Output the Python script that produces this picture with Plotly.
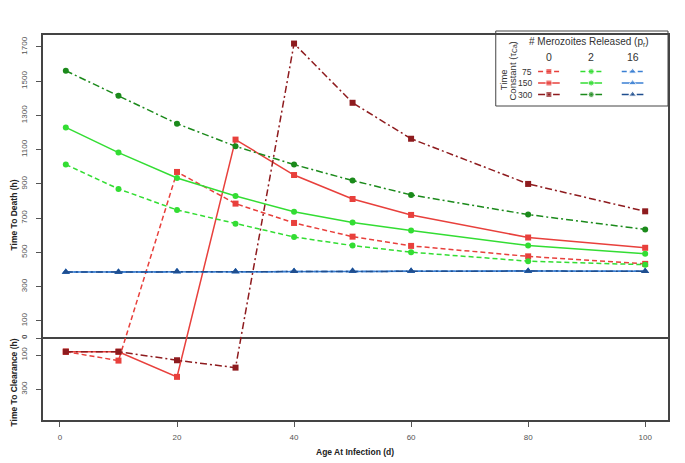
import plotly.graph_objects as go

# ---------------- data ----------------
age = [1, 10, 20, 30, 40, 50, 60, 80, 100]

# p_r = 0 (red): time to death (h), None where the infection cleared instead
red75_death = [None, None, 970, 785, 672, 592, 538, 477, 433]
red75_clear = [80, 132, None, None, None, None, None, None, None]
red150_death = [None, None, None, 1159, 952, 812, 719, 587, 527]
red150_clear = [80, 80, 227, None, None, None, None, None, None]
red300_death = [None, None, None, None, 1720, 1374, 1164, 900, 740]
red300_clear = [80, 80, 130, 173, None, None, None, None, None]

# p_r = 2 (green)
green75_death = [1013, 871, 748, 667, 590, 540, 501, 449, 428]
green150_death = [1230, 1083, 935, 830, 737, 675, 628, 540, 492]
green300_death = [1561, 1415, 1252, 1120, 1013, 920, 836, 721, 634]

# p_r = 16 (blue)
blue75_death = [385, 386, 388, 389, 390, 391, 392, 391, 390]
blue150_death = [385, 386, 388, 389, 390, 391, 392, 391, 390]
blue300_death = [385, 386, 388, 389, 390, 391, 392, 391, 390]

upper_ticks = [100, 300, 500, 700, 900, 1100, 1300, 1500, 1700]
lower_ticks = [100, 300]
x_ticks = [0, 20, 40, 60, 80, 100]

tau_labels = ["75", "150", "300"]
pr_labels = ["0", "2", "16"]

# ---------------- styles ----------------
RED = "#E8403C"
DRED = "#8E1B1E"
GREEN = "#33DD33"
DGREEN = "#1B8A1B"
BLUE = "#3A7FD3"
DBLUE = "#1F4E8E"
DASH = "5px,3px"
DASHDOT = "7px,3px,2px,3px"
dash_for = {"75": DASH, "150": "solid", "300": DASHDOT}
FONT = "Liberation Sans, Arial, sans-serif"


def signed(death, clear=None):
    out = []
    for i, d in enumerate(death):
        if d is not None:
            out.append(d)
        elif clear is not None and clear[i] is not None:
            out.append(-clear[i])
        else:
            out.append(None)
    return out


series = [
    (signed(red75_death, red75_clear), RED, "75", "square", 6),
    (signed(red150_death, red150_clear), RED, "150", "square", 6),
    (signed(red300_death, red300_clear), DRED, "300", "square", 6),
    (signed(green75_death), GREEN, "75", "circle", 6),
    (signed(green150_death), GREEN, "150", "circle", 6),
    (signed(green300_death), DGREEN, "300", "circle", 6),
    (signed(blue75_death), BLUE, "75", "triangle-up", 7),
    (signed(blue150_death), BLUE, "150", "triangle-up", 7),
    (signed(blue300_death), DBLUE, "300", "triangle-up", 7),
]

fig = go.Figure()
for y, col, tau, sym, sz in series:
    fig.add_trace(go.Scatter(
        x=age, y=y, mode="lines+markers",
        line=dict(color=col, width=1.5, dash=dash_for[tau]),
        marker=dict(symbol=sym, size=sz, color=col),
        showlegend=False, hoverinfo="skip",
    ))

# plot area in window pixels (page has an 8px body margin)
OFF = 8
L, R, T, B = 33, 668, 35, 420


def px(xw, yw):
    return (xw - L) / (R - L), (B - yw) / (B - T)


# ---------------- custom legend (pixel-coordinate overlay axes) ----------------
col_x = [547, 590, 632]
row_y = [71.5, 83, 94.5]
col_colors = [[RED, RED, DRED], [GREEN, GREEN, DGREEN], [BLUE, BLUE, DBLUE]]
col_syms = [("square", 6), ("circle", 6), ("triangle-up", 7)]
for ci, cx in enumerate(col_x):
    for ri, ry in enumerate(row_y):
        c = col_colors[ci][ri]
        fig.add_trace(go.Scatter(
            x=[cx - 11, cx, cx + 11], y=[ry, ry, ry], mode="lines+markers",
            line=dict(color=c, width=1.5, dash=dash_for[tau_labels[ri]]),
            marker=dict(symbol=col_syms[ci][0], size=[0, col_syms[ci][1], 0], color=c),
            xaxis="x2", yaxis="y2", showlegend=False, hoverinfo="skip",
        ))

annotations = []
annotations.append(dict(x=588, y=42, xref="x2", yref="y2", text="# Merozoites Released (p<sub>r</sub>)",
                        showarrow=False, xanchor="center", yanchor="middle",
                        font=dict(family=FONT, size=10, color="#333")))
for cx, lab in zip(col_x, pr_labels):
    annotations.append(dict(x=cx, y=57, xref="x2", yref="y2", text=lab, showarrow=False,
                            xanchor="center", yanchor="middle",
                            font=dict(family=FONT, size=10.5, color="#333")))
for ry, lab in zip(row_y, tau_labels):
    annotations.append(dict(x=532, y=ry, xref="x2", yref="y2", text=lab, showarrow=False,
                            xanchor="right", yanchor="middle",
                            font=dict(family=FONT, size=8.5, color="#333")))
annotations.append(dict(x=501, y=79.5, xref="x2", yref="y2", text="Time",
                        textangle=-90, showarrow=False, xanchor="center", yanchor="middle",
                        font=dict(family=FONT, size=9.5, color="#333")))
annotations.append(dict(x=509.5, y=71.5, xref="x2", yref="y2", text="Constant (τ<sub>Ca</sub>)",
                        textangle=-90, showarrow=False, xanchor="center", yanchor="middle",
                        font=dict(family=FONT, size=9.5, color="#333")))

# axis titles (window pixel positions -> paper)
for xw, yw, txt, ang in [(4, 215, "<b>Time To Death (h)</b>", -90),
                         (4, 382, "<b>Time To Clearance (h)</b>", -90),
                         (350, 452, "<b>Age At Infection (d)</b>", 0)]:
    xp, yp = px(xw, yw)
    annotations.append(dict(x=xp, y=yp, xref="paper", yref="paper", text=txt, textangle=ang,
                            showarrow=False, xanchor="center", yanchor="middle",
                            font=dict(family=FONT, size=8.5, color="#222")))

bx0, by0 = px(493, 106)
bx1, by1 = px(668, 31)

fig.update_layout(
    width=685, height=463,
    margin=dict(l=L - OFF, r=685 - (R - OFF), t=T - OFF, b=463 - (B - OFF)),
    paper_bgcolor="white", plot_bgcolor="white",
    xaxis=dict(range=[-2.9, 103.9], tickvals=x_ticks, ticks="outside", ticklen=5,
               tickcolor="#555", tickfont=dict(family=FONT, size=8, color="#555"),
               ticklabelstandoff=4,
               showgrid=False, zeroline=False, showline=True, mirror=True,
               linecolor="#444", linewidth=1.5),
    yaxis=dict(range=[-479, 1770],
               tickvals=[-v for v in lower_ticks] + [0] + upper_ticks,
               ticktext=[str(v) for v in lower_ticks] + ["<b>0</b>"] + [str(v) for v in upper_ticks],
               tickangle=-90, ticks="outside", ticklen=5, tickcolor="#555",
               tickfont=dict(family=FONT, size=8, color="#555"),
               ticklabelstandoff=6,
               showgrid=False, zeroline=True, zerolinecolor="#444", zerolinewidth=1.5,
               showline=True, mirror=True, linecolor="#444", linewidth=1.5),
    xaxis2=dict(overlaying="x", range=[L, R], visible=False, fixedrange=True),
    yaxis2=dict(overlaying="y", range=[B, T], visible=False, fixedrange=True),
    annotations=annotations,
    shapes=[dict(type="rect", xref="paper", yref="paper",
                 x0=bx0, x1=bx1, y0=by0, y1=by1,
                 line=dict(color="#444", width=1), fillcolor="white", layer="below")],
)

fig.write_html("out.html")
